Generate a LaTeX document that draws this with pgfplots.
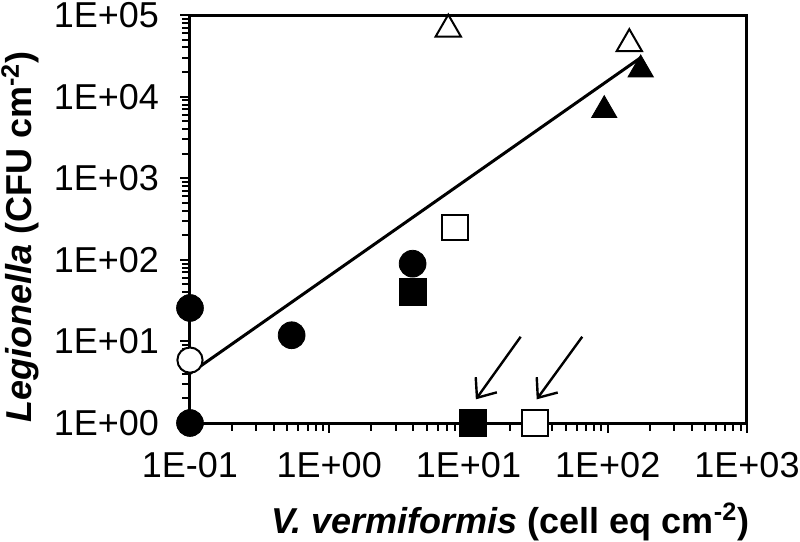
\documentclass[border=0pt]{standalone}
\usepackage{fontspec}
\setmainfont{Liberation Sans}
\usepackage{pgfplots}
\pgfplotsset{compat=1.18}
\usetikzlibrary{arrows.meta}

\begin{document}
\begin{tikzpicture}
% fixed page size: 400pt x 271pt
\path[use as bounding box] (-95pt,-59.5pt) rectangle (305pt,211.5pt);
\begin{axis}[
    at={(0,0)}, anchor=south west,
    scale only axis,
    width=278.5pt, height=204pt,
    xmode=log, ymode=log,
    log basis x=10, log basis y=10,
    xmin=0.1, xmax=1000,
    ymin=1, ymax=100000,
    clip=false,
    axis line style={line width=1.5pt},
    tick align=outside,
    xtick pos=left, ytick pos=left,
    major tick length=5pt, minor tick length=4pt,
    every tick/.style={black, line width=1pt},
    tick label style={font=\fontsize{18}{21}\selectfont},
    xticklabel style={yshift=-6pt},
    yticklabel style={xshift=-7pt},
    xticklabel={\pgfmathparse{int(round(\tick))}\ifnum\pgfmathresult<0 1E-0\the\numexpr-\pgfmathresult\relax\else 1E+0\pgfmathresult\fi},
    yticklabel={\pgfmathparse{int(round(\tick))}1E+0\pgfmathresult},
    xlabel={\textbf{\textit{V. vermiformis} (cell eq cm\textsuperscript{-2})}},
    ylabel={\textbf{\textit{Legionella} (CFU cm\textsuperscript{-2})}},
    label style={font=\fontsize{18}{21}\selectfont},
    xlabel style={at={(axis description cs:0.575,-0.243)}, anchor=center},
    ylabel style={at={(axis description cs:-0.305,0.456)}, anchor=center},
]
% regression line
\addplot[black, line width=1.5pt] coordinates {(0.1,4.05) (172.5,30000)};
% filled circles
\addplot[only marks, mark=*, mark size=6.7pt, black] coordinates {
    (0.1,1) (0.1,25.7) (0.537,11.9) (3.97,89.6)};
% open circle
\addplot[only marks, mark=*, mark size=6.3pt, mark options={fill=white, draw=black, line width=1pt}] coordinates {
    (0.1,5.9)};
% filled squares
\addplot[only marks, mark=square*, mark size=6.7pt, black] coordinates {
    (3.97,40) (10.8,1)};
% open squares
\addplot[only marks, mark=square*, mark size=6.3pt, mark options={fill=white, draw=black, line width=1pt}] coordinates {
    (8.0,247) (30.0,1)};
% open triangles
\addplot[only marks, mark=triangle*, mark size=7.3pt, mark options={fill=white, draw=black, line width=1pt}] coordinates {
    (7.16,66900) (142.9,44400)};
% filled triangles
\addplot[only marks, mark=triangle*, mark size=7.3pt, black] coordinates {
    (172.5,21450) (94.4,6800)};
% arrows
\draw[line width=1.2pt, -{Straight Barb[length=8pt,width=13pt]}] (axis cs:23.7,11.4) -- (axis cs:11.3,1.95);
\draw[line width=1.2pt, -{Straight Barb[length=8pt,width=13pt]}] (axis cs:65.6,11.4) -- (axis cs:30.9,1.95);
\end{axis}
\end{tikzpicture}
\end{document}
